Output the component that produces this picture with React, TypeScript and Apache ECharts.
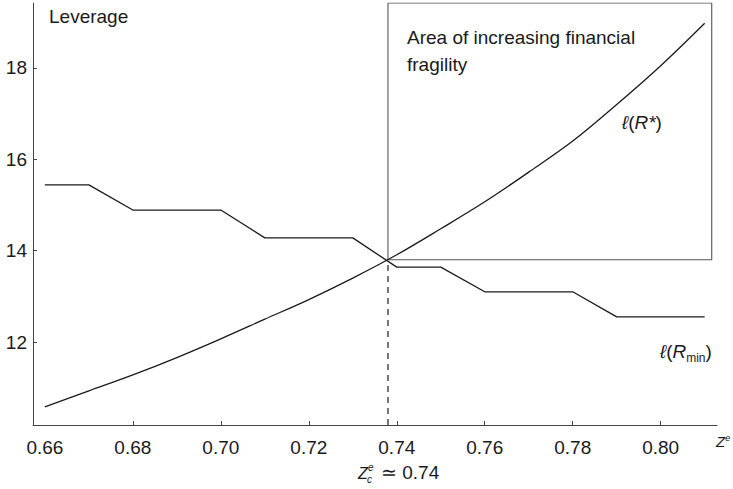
import React, { useEffect, useRef } from "react";
import * as echarts from "echarts";

// ---- data ----
const xValues = [0.66, 0.67, 0.68, 0.69, 0.70, 0.71, 0.72, 0.73, 0.74, 0.75, 0.76, 0.77, 0.78, 0.79, 0.80, 0.81];
const leverageStar = [10.58, 10.93, 11.28, 11.66, 12.07, 12.5, 12.93, 13.4, 13.91, 14.48, 15.07, 15.72, 16.4, 17.2, 18.05, 18.98];
const stepX = [0.66, 0.67, 0.68, 0.70, 0.71, 0.73, 0.74, 0.75, 0.76, 0.78, 0.79, 0.81];
const leverageMin = [15.44, 15.44, 14.89, 14.89, 14.28, 14.28, 13.64, 13.64, 13.1, 13.1, 12.55, 12.55];
const xTickLabels = [0.66, 0.68, 0.70, 0.72, 0.74, 0.76, 0.78, 0.80];
const xTickMarks = [0.68, 0.70, 0.72, 0.74, 0.76, 0.78, 0.80];
const yTickLabels = [12, 14, 16, 18];
const zCritical = 0.738;
const leverageCritical = 13.8;
const boxRight = 0.8116;

const X_MIN = 0.6573;
const X_MAX = 0.8128;
const Y_MIN = 10.183;
const Y_MAX = 19.423;

const FONT = "Liberation Sans, Arial, Helvetica, sans-serif";
const INK = "#1a1a1a";

export default function App() {
  const ref = useRef<HTMLDivElement>(null);

  useEffect(() => {
    if (!ref.current) return;
    const chart = echarts.init(ref.current, null, { renderer: "svg" });

    const starData = xValues.map((x, i) => [x, leverageStar[i]]);
    const minData = stepX.map((x, i) => [x, leverageMin[i]]);
    const dashData = [
      [zCritical, Y_MIN],
      [zCritical, leverageCritical],
    ];
    const boxData = [
      [zCritical, leverageCritical],
      [boxRight, leverageCritical],
      [boxRight, Y_MAX],
      [zCritical, Y_MAX],
      [zCritical, leverageCritical],
    ];

    const option: any = {
      animation: false,
      backgroundColor: "#fff",
      grid: { left: 33, right: 16, top: 3, bottom: 64, containLabel: false, outerBoundsMode: "none" },
      xAxis: {
        type: "value",
        min: X_MIN,
        max: X_MAX,
        axisLine: { show: true, lineStyle: { color: "#444", width: 1 } },
        axisTick: { show: true, inside: true, length: 4, customValues: xTickMarks, lineStyle: { color: "#444" } },
        axisLabel: {
          customValues: xTickLabels,
          formatter: (v: number) => v.toFixed(2),
          color: INK,
          fontFamily: FONT,
          fontSize: 19,
          margin: 13,
        },
        splitLine: { show: false },
      },
      yAxis: {
        type: "value",
        min: Y_MIN,
        max: Y_MAX,
        axisLine: { show: true, lineStyle: { color: "#444", width: 1 } },
        axisTick: { show: true, inside: true, length: 4, customValues: yTickLabels, lineStyle: { color: "#444" } },
        axisLabel: {
          customValues: yTickLabels,
          formatter: (v: number) => String(v),
          color: INK,
          fontFamily: FONT,
          fontSize: 19,
          margin: 6,
        },
        splitLine: { show: false },
      },
      series: [
        {
          type: "line",
          data: starData,
          showSymbol: false,
          smooth: 0.35,
          lineStyle: { color: INK, width: 1.3 },
          z: 3,
        },
        {
          type: "line",
          data: minData,
          showSymbol: false,
          lineStyle: { color: INK, width: 1.3 },
          z: 3,
        },
        {
          type: "line",
          data: dashData,
          showSymbol: false,
          lineStyle: { color: INK, width: 1.2, type: [6, 5] },
          z: 2,
        },
        {
          type: "line",
          data: boxData,
          showSymbol: false,
          lineStyle: { color: "#555", width: 1.1 },
          z: 2,
        },
      ],
      graphic: [
        {
          type: "text",
          left: 49,
          top: 7,
          style: { text: "Leverage", fill: INK, font: `19px ${FONT}` },
        },
        {
          type: "text",
          left: 407,
          top: 24,
          style: {
            text: "Area of increasing financial\nfragility",
            fill: INK,
            font: `19px ${FONT}`,
            lineHeight: 27,
          },
        },
        {
          type: "text",
          left: 622,
          top: 113,
          style: {
            text: "{l|ℓ}{a|(}{b|R*}{a|)}",
            rich: {
              l: { fill: INK, fontStyle: "italic", fontSize: 19, fontFamily: FONT },
              a: { fill: INK, fontSize: 19, fontFamily: FONT },
              b: { fill: INK, fontStyle: "italic", fontSize: 19, fontFamily: FONT },
            },
          },
        },
        {
          type: "text",
          left: 660,
          top: 342,
          style: {
            text: "{l|ℓ}{a|(}{b|R}{s|min}{a|)}",
            rich: {
              l: { fill: INK, fontStyle: "italic", fontSize: 19, fontFamily: FONT },
              a: { fill: INK, fontSize: 19, fontFamily: FONT },
              b: { fill: INK, fontStyle: "italic", fontSize: 19, fontFamily: FONT },
              s: { fill: INK, fontSize: 12, fontFamily: FONT, padding: [12, 0, 0, 0] },
            },
          },
        },
        {
          type: "text",
          left: 716,
          top: 433,
          style: {
            text: "{z|Z}{e|e}",
            rich: {
              z: { fill: INK, fontStyle: "italic", fontSize: 15, fontFamily: FONT },
              e: { fill: INK, fontStyle: "italic", fontSize: 9, fontFamily: FONT, padding: [0, 0, 8, 0] },
            },
          },
        },
        {
          type: "group",
          left: 358,
          top: 462,
          children: [
            { type: "text", x: 0, y: 3, style: { text: "Z", fill: INK, font: `italic 16px ${FONT}` } },
            { type: "text", x: 10, y: 0, style: { text: "e", fill: INK, font: `italic 10px ${FONT}` } },
            { type: "text", x: 9, y: 12, style: { text: "c", fill: INK, font: `italic 10px ${FONT}` } },
            { type: "text", x: 23, y: 1, style: { text: "≃ 0.74", fill: INK, font: `19px ${FONT}` } },
          ],
        },
      ],
    };

    chart.setOption(option);
    return () => chart.dispose();
  }, []);

  return (
    <div
      ref={ref}
      style={{ position: "fixed", left: 0, top: 0, width: 733, height: 489, background: "#fff" }}
    />
  );
}
